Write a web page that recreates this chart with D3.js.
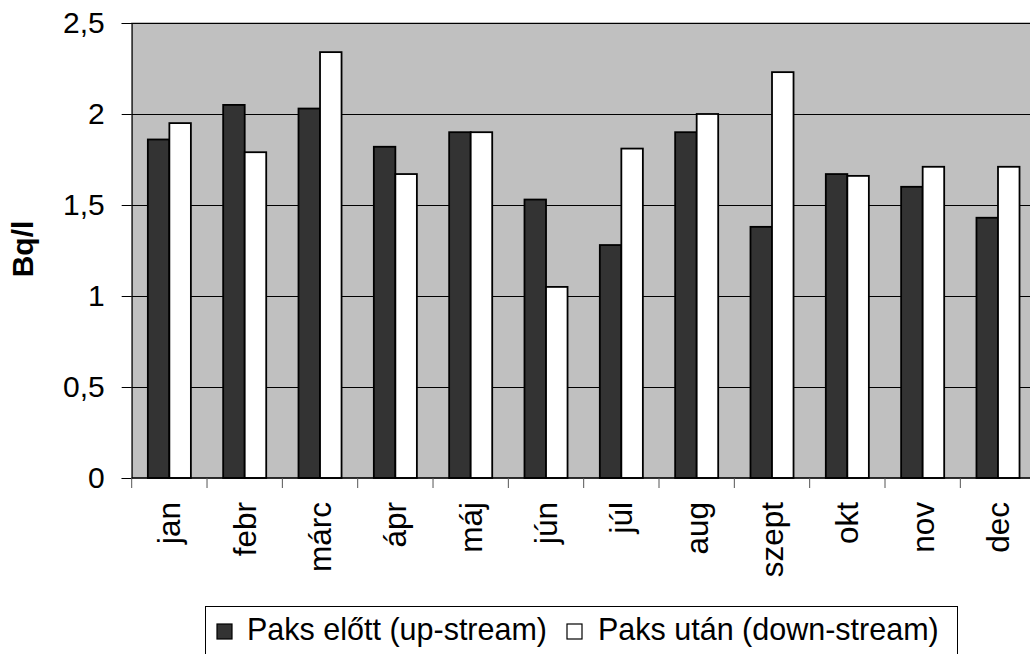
<!DOCTYPE html>
<html>
<head>
<meta charset="utf-8">
<script src="https://cdn.jsdelivr.net/npm/d3@7"></script>
<style>
  body { margin: 0; background: #ffffff; overflow: hidden; }
  svg { display: block; font-family: Arial, "Liberation Sans", sans-serif; }
</style>
</head>
<body>
<svg id="canvas" width="1030" height="654"></svg>
<script>
// ###############
// Data
// ###############
var months = ["jan", "febr", "márc", "ápr", "máj", "jún", "júl", "aug", "szept", "okt", "nov", "dec"];
var upstream   = [1.86, 2.05, 2.03, 1.82, 1.90, 1.53, 1.28, 1.90, 1.38, 1.67, 1.60, 1.43];
var downstream = [1.95, 1.79, 2.34, 1.67, 1.90, 1.05, 1.81, 2.00, 2.23, 1.66, 1.71, 1.71];
var seriesNames = ["Paks előtt (up-stream)", "Paks után (down-stream)"];
var yTicks = [0, 0.5, 1, 1.5, 2, 2.5];

// ###############
// Layout
// ###############
var plotLeft = 131.7, plotTop = 23, plotBottom = 478;
var bandW = 75.33;
var plotRight = plotLeft + bandW * months.length;   // runs a bit past the window, as in the original

var svg = d3.select("#canvas");

var x = d3.scaleBand()
    .domain(months)
    .range([plotLeft, plotRight])
    .paddingInner(0).paddingOuter(0);

// Excel style: gap width 150% -> band = 3.5 bar widths
var barW = bandW / 3.5;
var x1 = d3.scaleBand()
    .domain([0, 1])
    .range([barW * 0.75, barW * 2.75]);

var y = d3.scaleLinear()
    .domain([0, 2.5])
    .range([plotBottom, plotTop]);

// plot background
svg.append("rect")
    .attr("x", plotLeft).attr("y", plotTop)
    .attr("width", plotRight - plotLeft).attr("height", plotBottom - plotTop)
    .attr("fill", "#c0c0c0")
    .attr("stroke", "#808080").attr("stroke-width", 1);

// gridlines
svg.append("g").selectAll("line")
    .data(yTicks.filter(function(d) { return d > 0; }))
    .enter().append("line")
    .attr("x1", plotLeft).attr("x2", plotRight)
    .attr("y1", function(d) { return Math.round(y(d)) + 0.5; })
    .attr("y2", function(d) { return Math.round(y(d)) + 0.5; })
    .attr("stroke", "#000").attr("stroke-width", 1);

// ###############
// bars
// ###############
var rows = months.map(function(m, i) { return { month: m, vals: [upstream[i], downstream[i]] }; });
var fills = ["#333333", "#ffffff"];

var groups = svg.append("g")
    .selectAll("g")
    .data(rows)
    .enter().append("g")
    .attr("transform", function(d) { return "translate(" + x(d.month) + ",0)"; });

groups.selectAll("rect")
    .data(function(d) { return d.vals.map(function(v, k) { return { k: k, v: v }; }); })
    .enter().append("rect")
    .attr("x", function(d) { return x1(d.k); })
    .attr("width", x1.bandwidth())
    .attr("y", function(d) { return y(d.v); })
    .attr("height", function(d) { return plotBottom - y(d.v); })
    .attr("fill", function(d) { return fills[d.k]; })
    .attr("stroke", "#000").attr("stroke-width", 1.8);

// ###############
// axes
// ###############
var yAxis = d3.axisLeft(y)
    .tickValues(yTicks)
    .tickSize(10)
    .tickPadding(17)
    .tickFormat(function(d) { return String(d).replace(".", ","); });

var gy = svg.append("g")
    .attr("transform", "translate(" + plotLeft + ",0)")
    .call(yAxis);
gy.select(".domain").attr("stroke", "#000");
gy.selectAll(".tick line").attr("stroke", "#000");
gy.selectAll("text")
    .attr("font-size", 30).attr("fill", "#000")
    .attr("font-family", "Arial, 'Liberation Sans', sans-serif");

// x axis: ticks sit on band edges
var gx = svg.append("g");
gx.append("line")
    .attr("x1", plotLeft).attr("x2", plotRight)
    .attr("y1", plotBottom).attr("y2", plotBottom)
    .attr("stroke", "#000").attr("stroke-width", 1.5);
gx.selectAll(".xtick")
    .data(months.concat(["end"]))
    .enter().append("line")
    .attr("class", "xtick")
    .attr("x1", function(d, i) { return plotLeft + i * x.bandwidth(); })
    .attr("x2", function(d, i) { return plotLeft + i * x.bandwidth(); })
    .attr("y1", plotBottom).attr("y2", plotBottom + 10)
    .attr("stroke", "#555").attr("stroke-width", 1);

gx.selectAll(".xlabel")
    .data(months)
    .enter().append("text")
    .attr("class", "xlabel")
    .attr("transform", function(d) { return "translate(" + (x(d) + x.bandwidth() / 2) + "," + (plotBottom + 24) + ") rotate(-90)"; })
    .attr("text-anchor", "end")
    .attr("dy", "0.35em")
    .attr("font-size", 31.5)
    .text(function(d) { return d; });

// y title
svg.append("text")
    .attr("transform", "translate(22,249) rotate(-90)")
    .attr("text-anchor", "middle")
    .attr("dy", "0.35em")
    .attr("font-size", 30)
    .attr("font-weight", "bold")
    .text("Bq/l");

// ###############
// legend
// ###############
var legend = svg.append("g");
legend.append("rect")
    .attr("x", 205.5).attr("y", 606.5)
    .attr("width", 752).attr("height", 60)
    .attr("fill", "#fff").attr("stroke", "#000").attr("stroke-width", 1);

var legX = [217, 567];
var legTextX = [247, 598];
seriesNames.forEach(function(name, k) {
    legend.append("rect")
        .attr("x", legX[k]).attr("y", 624)
        .attr("width", 15).attr("height", 15)
        .attr("fill", fills[k]).attr("stroke", "#000").attr("stroke-width", 1.2);
    legend.append("text")
        .attr("x", legTextX[k]).attr("y", 640)
        .attr("font-size", 30.5)
        .text(name);
});
</script>
</body>
</html>
